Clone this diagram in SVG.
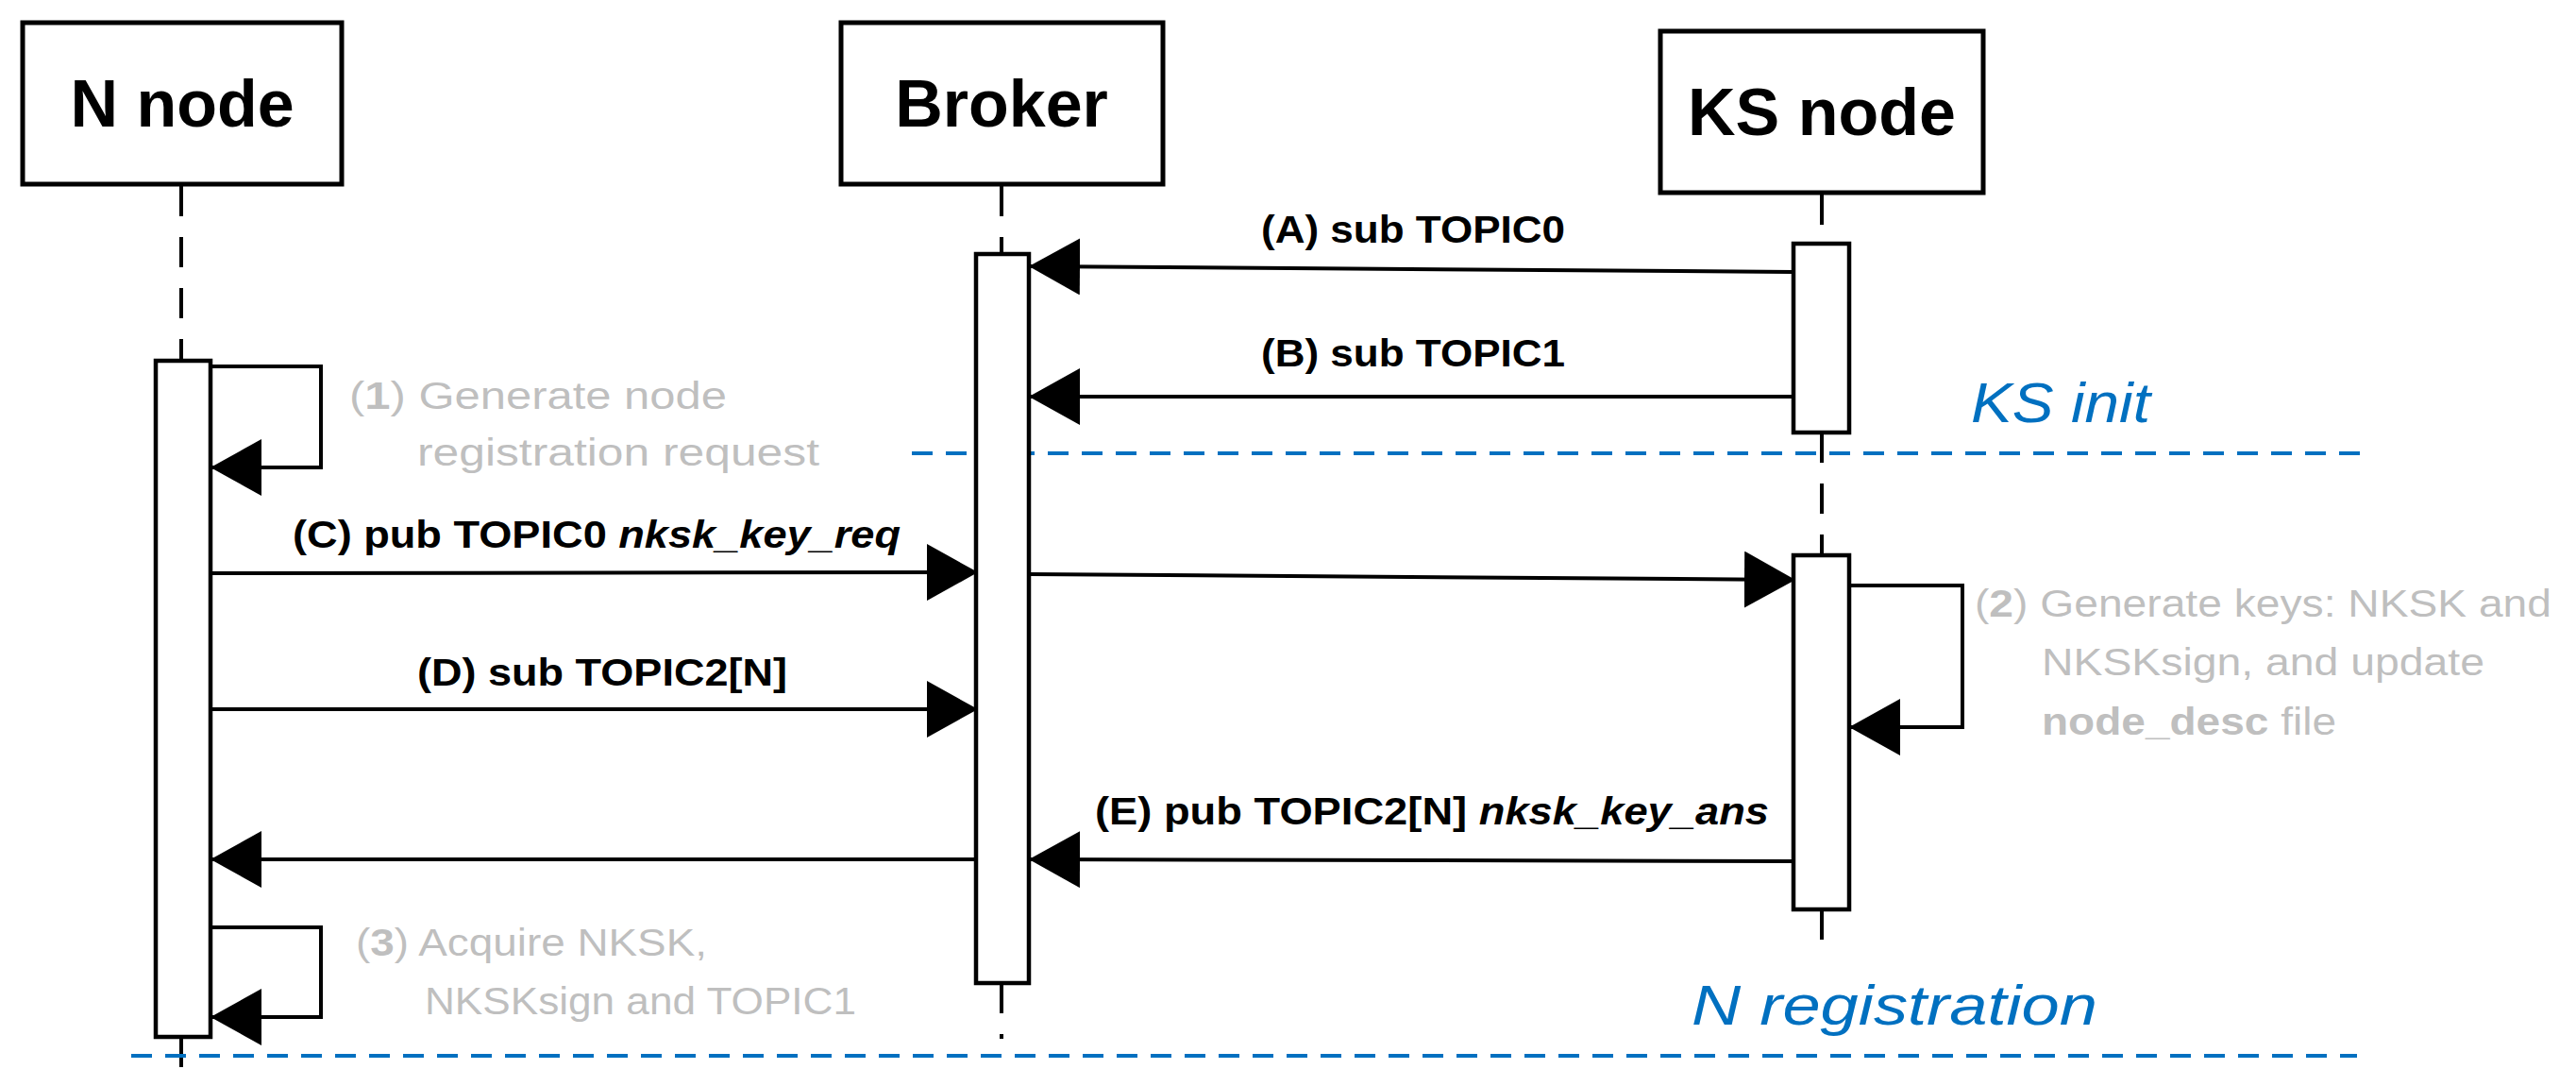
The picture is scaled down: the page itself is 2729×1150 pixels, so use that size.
<svg xmlns="http://www.w3.org/2000/svg" width="2729" height="1150" viewBox="0 0 2729 1150">
<style>
.box{fill:#fff;stroke:#000;stroke-width:5}
.act{fill:#fff;stroke:#000;stroke-width:4.5}
.life{stroke:#000;stroke-width:4;stroke-dasharray:32,22;fill:none}
.msg{stroke:#000;stroke-width:4;fill:none}
.sep{stroke:#0070c0;stroke-width:4;stroke-dasharray:22,14;fill:none}
.title{font-family:"Liberation Sans",Arial,sans-serif;font-weight:bold;font-size:70px;text-anchor:middle}
.lbl{font-family:"Liberation Sans",Arial,sans-serif;font-weight:bold;font-size:40px}
.note{font-family:"Liberation Sans",Arial,sans-serif;font-size:40px;fill:#bfbfbf}
.phase{font-family:"Liberation Sans",Arial,sans-serif;font-style:italic;font-size:60px;fill:#0070c0}
</style>
<defs>
<marker id="ah" markerUnits="userSpaceOnUse" markerWidth="54" markerHeight="60" refX="52" refY="30" orient="auto"><path d="M0,0 L54,30 L0,60 Z" fill="#000"/></marker>
</defs>
<g id="lifelines">
<path class="life" d="M192,197 V382 M192,1098 V1131"/>
<path class="life" d="M1061,197 V269 M1061,1041 V1100"/>
<path class="life" d="M1930,206 V258 M1930,458 V588 M1930,963 V1011"/>
</g>
<g id="separators">
<path class="sep" d="M966,480 H2512"/>
<path class="sep" d="M139,1118 H2497"/>
<text class="phase" x="2088" y="447" textLength="190" lengthAdjust="spacingAndGlyphs">KS init</text>
<text class="phase" x="1792" y="1085" textLength="430" lengthAdjust="spacingAndGlyphs">N registration</text>
</g>
<g id="n-node"><rect class="box" x="24" y="24" width="338" height="171"/><text class="title" x="193" y="134">N node</text></g>
<g id="broker"><rect class="box" x="891" y="24" width="341" height="171"/><text class="title" x="1061" y="134">Broker</text></g>
<g id="ks-node"><rect class="box" x="1759" y="33" width="342" height="171"/><text class="title" x="1930" y="143">KS node</text></g>
<g id="activations">
<rect class="act" x="165" y="382" width="58" height="716"/>
<rect class="act" x="1034" y="269" width="56" height="772"/>
<rect class="act" x="1900" y="258" width="59" height="200"/>
<rect class="act" x="1900" y="588" width="59" height="375"/>
</g>
<g id="connectors">
<path class="msg" marker-end="url(#ah)" d="M1900,288 L1092,282"/>
<path class="msg" marker-end="url(#ah)" d="M1900,420 L1092,420"/>
<path class="msg" marker-end="url(#ah)" d="M223,388 H340 V495 H225"/>
<path class="msg" marker-end="url(#ah)" d="M223,607 L1034,606"/>
<path class="msg" marker-end="url(#ah)" d="M1090,608 L1900,614"/>
<path class="msg" marker-end="url(#ah)" d="M1959,620 H2079 V770 H1961"/>
<path class="msg" marker-end="url(#ah)" d="M223,751 H1034"/>
<path class="msg" marker-end="url(#ah)" d="M1900,912 L1092,910"/>
<path class="msg" marker-end="url(#ah)" d="M1034,910 H225"/>
<path class="msg" marker-end="url(#ah)" d="M223,982 H340 V1077 H225"/>
</g>
<g id="labels">
<text class="lbl" x="1336" y="257" textLength="322" lengthAdjust="spacingAndGlyphs">(A) sub TOPIC0</text>
<text class="lbl" x="1336" y="388" textLength="322" lengthAdjust="spacingAndGlyphs">(B) sub TOPIC1</text>
<text class="lbl" x="310" y="580" textLength="644" lengthAdjust="spacingAndGlyphs">(C) pub TOPIC0 <tspan font-style="italic">nksk_key_req</tspan></text>
<text class="lbl" x="442" y="726" textLength="392" lengthAdjust="spacingAndGlyphs">(D) sub TOPIC2[N]</text>
<text class="lbl" x="1160" y="873" textLength="714" lengthAdjust="spacingAndGlyphs">(E) pub TOPIC2[N] <tspan font-style="italic">nksk_key_ans</tspan></text>
<text class="note" x="370" y="433" textLength="400" lengthAdjust="spacingAndGlyphs">(<tspan font-weight="bold">1</tspan>) Generate node</text>
<text class="note" x="442" y="493" textLength="426" lengthAdjust="spacingAndGlyphs">registration request</text>
<text class="note" x="2092" y="653" textLength="611" lengthAdjust="spacingAndGlyphs">(<tspan font-weight="bold">2</tspan>) Generate keys: NKSK and</text>
<text class="note" x="2163" y="715" textLength="469" lengthAdjust="spacingAndGlyphs">NKSKsign, and update</text>
<text class="note" x="2163" y="778" textLength="312" lengthAdjust="spacingAndGlyphs"><tspan font-weight="bold">node_desc</tspan> file</text>
<text class="note" x="377" y="1012" textLength="372" lengthAdjust="spacingAndGlyphs">(<tspan font-weight="bold">3</tspan>) Acquire NKSK,</text>
<text class="note" x="450" y="1074" textLength="457" lengthAdjust="spacingAndGlyphs">NKSKsign and TOPIC1</text>
</g>
</svg>
